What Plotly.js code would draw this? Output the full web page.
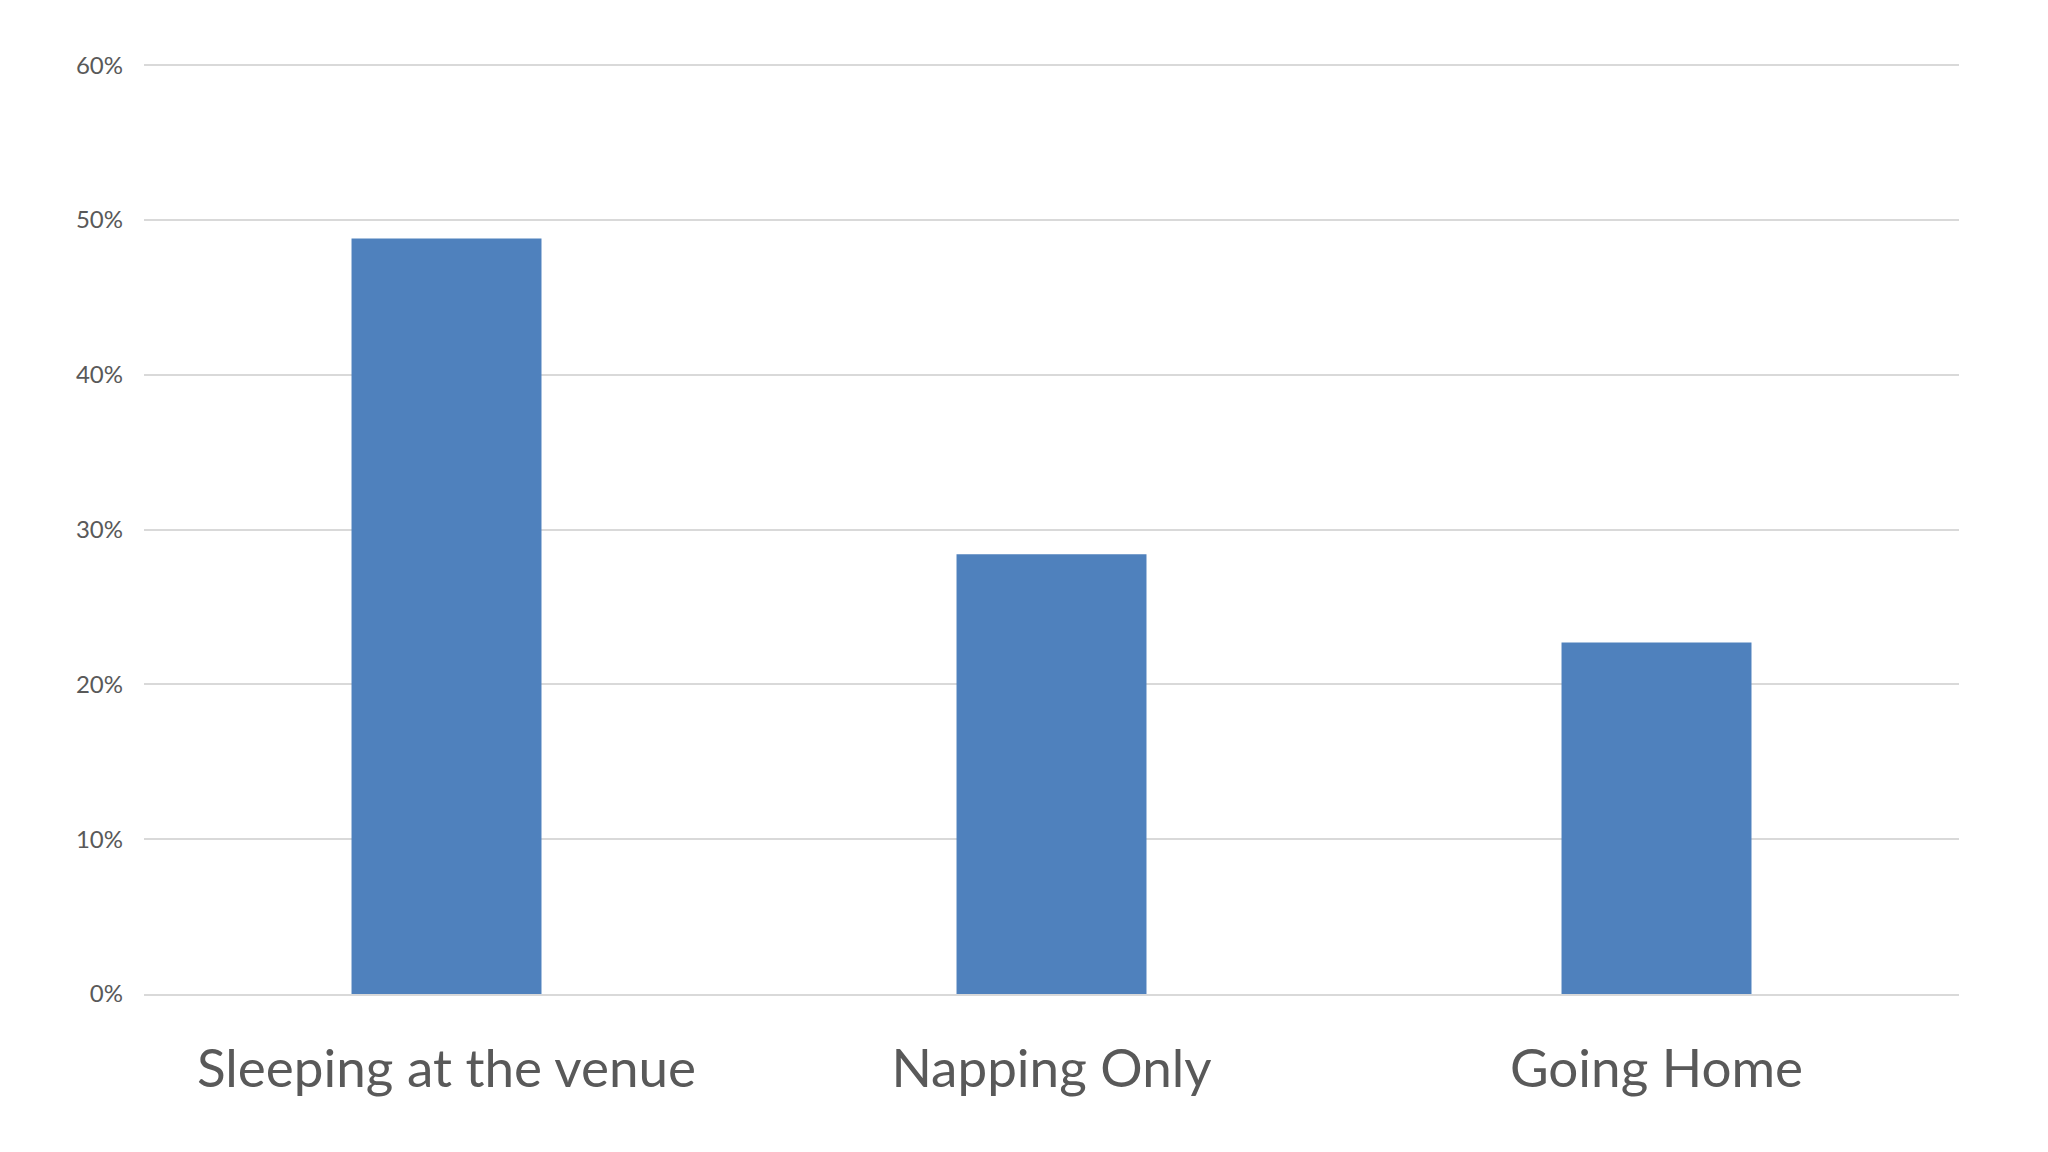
<!DOCTYPE html>
<html>
<head>
<meta charset="utf-8">
<script src="https://cdn.plot.ly/plotly-3.0.1.min.js"></script>
<style>
  html, body { margin: 0; padding: 0; background: #fff; }
  #chart { width: 2048px; height: 1152px; }
</style>
</head>
<body>
<div id="chart"></div>
<script>
var categories = ['Sleeping at the venue', 'Napping Only', 'Going Home'];
var shares = [0.488, 0.284, 0.227];
var yTicks = [0, 0.1, 0.2, 0.3, 0.4, 0.5, 0.6];

var trace = {
  x: categories,
  y: shares,
  type: 'bar',
  marker: { color: '#4f81bd' },
  hoverinfo: 'x+y'
};

var layout = {
  width: 2048,
  height: 1152,
  margin: { l: 144, r: 89, t: 62, b: 158 },
  paper_bgcolor: '#ffffff',
  plot_bgcolor: '#ffffff',
  showlegend: false,
  bargap: 0.686,
  font: { family: 'Lato, "Open Sans", sans-serif', color: '#595959' },
  xaxis: {
    showgrid: false,
    showline: true,
    linecolor: '#d9d9d9',
    linewidth: 2,
    ticks: '',
    ticklabelstandoff: 27,
    tickfont: { size: 53, color: '#595959' }
  },
  yaxis: {
    range: [0, 0.602],
    tickvals: yTicks,
    tickformat: '.0%',
    showgrid: true,
    gridcolor: '#d9d9d9',
    gridwidth: 2,
    zeroline: false,
    showline: false,
    ticks: '',
    ticklabelstandoff: 20,
    tickfont: { size: 24, color: '#595959' }
  }
};

Plotly.newPlot('chart', [trace], layout, { displayModeBar: false, staticPlot: true });
</script>
</body>
</html>
